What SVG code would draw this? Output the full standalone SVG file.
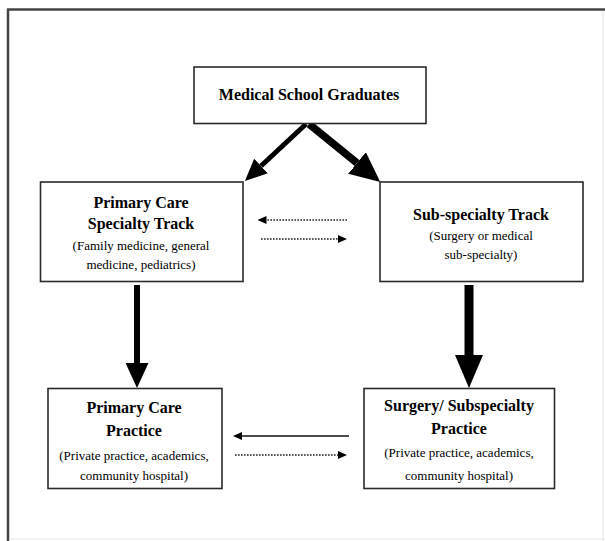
<svg xmlns="http://www.w3.org/2000/svg" width="605" height="541" viewBox="0 0 605 541">
  <style>
    .box { fill: #ffffff; stroke: #2a2a2a; stroke-width: 1.6; }
    .title { font-family: "Liberation Serif", "Times New Roman", serif; font-weight: bold; font-size: 16px; fill: #000; text-anchor: middle; }
    .sub { font-family: "Liberation Serif", "Times New Roman", serif; font-size: 13px; fill: #000; text-anchor: middle; }
    .thick { stroke: #000; fill: none; }
    .dotted { stroke: #222; stroke-width: 1.4; stroke-dasharray: 1.6 1.4; fill: none; }
    .thin { stroke: #111; stroke-width: 1.6; fill: none; }
  </style>
  <defs>
    <marker id="headM" markerUnits="userSpaceOnUse" markerWidth="22" markerHeight="20" viewBox="0 0 22 20" refX="0" refY="10" orient="auto">
      <path d="M0,0 L22,10 L0,20 Z" fill="#000"/>
    </marker>
    <marker id="headL" markerUnits="userSpaceOnUse" markerWidth="30" markerHeight="28" viewBox="0 0 30 28" refX="0" refY="14" orient="auto">
      <path d="M0,0 L30,14 L0,28 Z" fill="#000"/>
    </marker>
    <marker id="headV" markerUnits="userSpaceOnUse" markerWidth="25" markerHeight="23" viewBox="0 0 25 23" refX="0" refY="11.5" orient="auto">
      <path d="M0,0 L25,11.5 L0,23 Z" fill="#000"/>
    </marker>
    <marker id="headVL" markerUnits="userSpaceOnUse" markerWidth="33" markerHeight="28" viewBox="0 0 33 28" refX="0" refY="14" orient="auto">
      <path d="M0,0 L33,14 L0,28 Z" fill="#000"/>
    </marker>
    <marker id="headS" markerUnits="userSpaceOnUse" markerWidth="9" markerHeight="8" viewBox="0 0 9 8" refX="0" refY="4" orient="auto">
      <path d="M0,0 L9,4 L0,8 Z" fill="#000"/>
    </marker>
  </defs>

  <!-- outer frame -->
  <g id="frame">
    <line x1="7" y1="9.5" x2="605" y2="9.5" stroke="#444" stroke-width="2.5"/>
    <line x1="8" y1="9" x2="8" y2="541" stroke="#444" stroke-width="2.5"/>
    <line x1="603" y1="11" x2="603" y2="541" stroke="#e2e2e2" stroke-width="1"/>
    <line x1="9" y1="539" x2="605" y2="539" stroke="#e6e6e6" stroke-width="1"/>
  </g>

  <g id="connectors">
    <!-- diagonals from top node -->
    <line class="thick" x1="306" y1="124" x2="261" y2="166" stroke-width="5" marker-end="url(#headM)"/>
    <line class="thick" x1="309" y1="124" x2="357" y2="163" stroke-width="7.5" marker-end="url(#headL)"/>
    <!-- verticals -->
    <line class="thick" x1="137" y1="285" x2="137" y2="363" stroke-width="6" marker-end="url(#headV)"/>
    <line class="thick" x1="469" y1="285" x2="469" y2="355" stroke-width="9" marker-end="url(#headVL)"/>
    <!-- between tracks (dotted) -->
    <line class="dotted" x1="347" y1="220" x2="266.5" y2="220" marker-end="url(#headS)"/>
    <line class="dotted" x1="261" y1="239" x2="338" y2="239" marker-end="url(#headS)"/>
    <!-- between practices -->
    <line class="thin" x1="349" y1="436" x2="242" y2="436" marker-end="url(#headS)"/>
    <line class="dotted" x1="235" y1="455" x2="338" y2="455" marker-end="url(#headS)"/>
  </g>

  <g id="medical-school-graduates">
    <rect class="box" x="194" y="67" width="232" height="56.5"/>
    <text class="title" x="309" y="100">Medical School Graduates</text>
  </g>

  <g id="primary-care-specialty-track">
    <rect class="box" x="40.5" y="182" width="202.5" height="99.5"/>
    <text class="title" x="141" y="208">Primary Care</text>
    <text class="title" x="141" y="229">Specialty Track</text>
    <text class="sub" x="141" y="250">(Family medicine, general</text>
    <text class="sub" x="141" y="269">medicine, pediatrics)</text>
  </g>

  <g id="sub-specialty-track">
    <rect class="box" x="380" y="182" width="203" height="99.5"/>
    <text class="title" x="481" y="219.5">Sub-specialty Track</text>
    <text class="sub" x="481" y="240">(Surgery or medical</text>
    <text class="sub" x="481" y="259">sub-specialty)</text>
  </g>

  <g id="primary-care-practice">
    <rect class="box" x="48" y="388.5" width="174" height="100"/>
    <text class="title" x="134" y="413">Primary Care</text>
    <text class="title" x="134" y="436">Practice</text>
    <text class="sub" x="134" y="459.5" font-size="12.5">(Private practice, academics,</text>
    <text class="sub" x="134" y="479.5" font-size="12.5">community hospital)</text>
  </g>

  <g id="surgery-subspecialty-practice">
    <rect class="box" x="364" y="388.5" width="190.5" height="100"/>
    <text class="title" x="459" y="411">Surgery/ Subspecialty</text>
    <text class="title" x="459" y="433.5">Practice</text>
    <text class="sub" x="459" y="456.5" font-size="12.5">(Private practice, academics,</text>
    <text class="sub" x="459" y="479.5" font-size="12.5">community hospital)</text>
  </g>
</svg>
